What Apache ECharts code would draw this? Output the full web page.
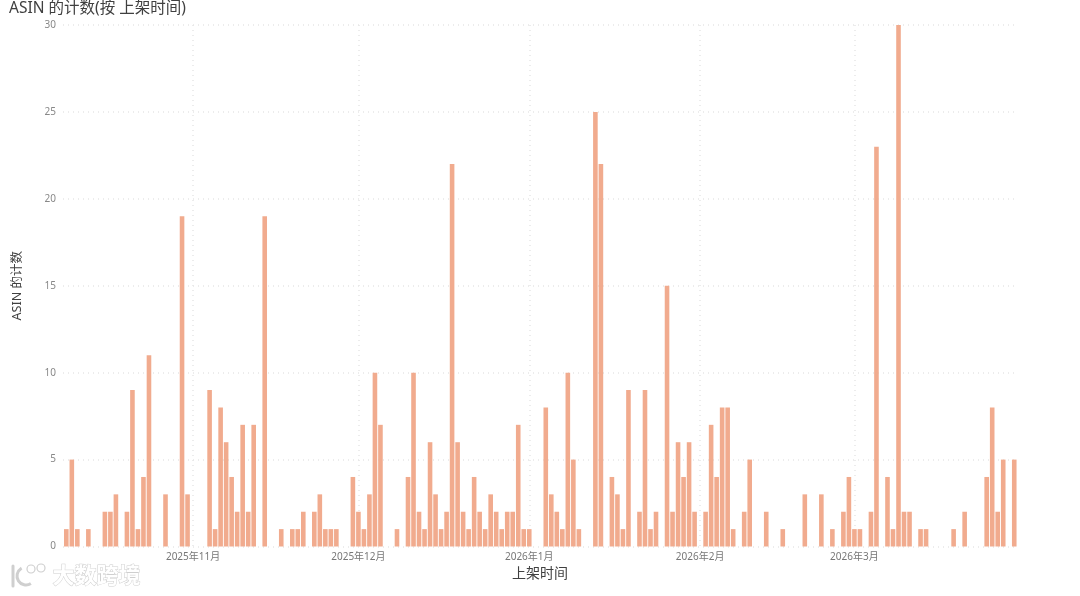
<!DOCTYPE html>
<html>
<head>
<meta charset="utf-8">
<style>html,body{margin:0;padding:0;background:#fff}#c{width:1080px;height:596px}</style>
<script src="https://cdn.jsdelivr.net/npm/echarts@6/dist/echarts.min.js"></script>
</head>
<body>
<div id="c"></div>
<script>
const titleText = 'ASIN 的计数(按 上架时间)';
const xName = '上架时间';
const yName = 'ASIN 的计数';
const yTicks = [0, 5, 10, 15, 20, 25, 30];
// Days counted from the first bar (2025-10-09) and the label of each month start
const monthDays = [23, 53, 84, 115, 143];
const monthNames = ['2025年11月', '2025年12月', '2026年1月', '2026年2月', '2026年3月'];
const octCounts = [1,5,1,0,1,0,0,2,2,3,0,2,9,1,4,11,0,0,3,0,0,19,3];
const novCounts = [0,0,0,9,1,8,6,4,2,7,2,7,0,19,0,0,1,0,1,1,2,0,2,3,1,1,1,0,0,4];
const decCounts = [2,1,3,10,7,0,0,1,0,4,10,2,1,6,3,1,2,22,6,2,1,4,2,1,3,2,1,2,2,7,1];
const janCounts = [1,0,0,8,3,2,1,10,5,1,0,0,25,22,0,4,3,1,9,0,2,9,1,2,0,15,2,6,4,6,2];
const febCounts = [0,2,7,4,8,8,1,0,2,5,0,0,2,0,0,1,0,0,0,3,0,0,3,0,1,0,2,4];
const marCounts = [1,1,0,2,23,0,4,1,30,2,2,0,1,1,0,0,0,0,1,0,2,0,0,0,4,8,2,5,0,5];

const counts = [...octCounts, ...novCounts, ...decCounts, ...janCounts, ...febCounts, ...marCounts];
const seriesData = counts.map((v, i) => [i, v]);

const chart = echarts.init(document.getElementById('c'), null, {renderer: 'canvas'});
const cjk = '"Noto Sans", "Noto Sans CJK SC", sans-serif';
const wmStroke = '#cfcfcf';
chart.setOption({
  animation: false,
  backgroundColor: '#fff',
  title: {
    text: titleText, left: 4, top: -4,
    textStyle: {fontFamily: cjk, fontSize: 15.5, fontWeight: 'normal', color: '#404040'}
  },
  grid: {left: 63, right: 63, top: 25, bottom: 49.5},
  xAxis: {
    type: 'value',
    min: -0.6,
    max: counts.length - 0.5,
    name: xName, nameLocation: 'middle', nameGap: 20,
    nameTextStyle: {fontFamily: cjk, fontSize: 14, color: '#404040'},
    axisLine: {show: false},
    axisTick: {show: false, customValues: monthDays},
    axisLabel: {
      show: true, customValues: monthDays, fontFamily: cjk, fontSize: 10, color: '#777', margin: 6,
      formatter: v => monthNames[monthDays.indexOf(v)] || ''
    },
    splitLine: {show: true, lineStyle: {color: '#e6e6e6', type: [1, 4], width: 1.5}}
  },
  yAxis: {
    type: 'value', min: 0, max: 30, interval: 5,
    name: yName, nameLocation: 'middle', nameGap: 39,
    nameTextStyle: {fontFamily: cjk, fontSize: 12.5, color: '#404040'},
    axisLine: {show: false}, axisTick: {show: false},
    axisLabel: {fontFamily: cjk, fontSize: 10, color: '#888', margin: 7,
      formatter: v => yTicks.includes(v) ? String(v) : ''},
    splitLine: {show: true, lineStyle: {color: '#e6e6e6', type: [1, 4], width: 1.5}}
  },
  series: [{
    type: 'bar',
    data: seriesData,
    barWidth: 4.6,
    itemStyle: {color: '#F1AB8E'}
  }],
  graphic: [
    {type: 'text', left: 52, top: 563, style: {text: '大数跨境', fontFamily: '"Noto Sans CJK SC"', fontSize: 22, fontWeight: 'bold', fill: '#fff', stroke: wmStroke, lineWidth: 1}},
    {type: 'line', shape: {x1: 13, y1: 566, x2: 13, y2: 586}, style: {stroke: wmStroke, lineWidth: 3, lineCap: 'round'}},
    {type: 'arc', shape: {cx: 26, cy: 576, r: 9, startAngle: 1.0, endAngle: 4.2, clockwise: true}, style: {fill: 'none', stroke: wmStroke, lineWidth: 3}},
    {type: 'circle', shape: {cx: 31, cy: 569, r: 4}, style: {fill: '#fff', stroke: wmStroke, lineWidth: 1.2}},
    {type: 'circle', shape: {cx: 41, cy: 568, r: 4}, style: {fill: '#fff', stroke: wmStroke, lineWidth: 1.2}}
  ]
});
</script>
</body>
</html>
